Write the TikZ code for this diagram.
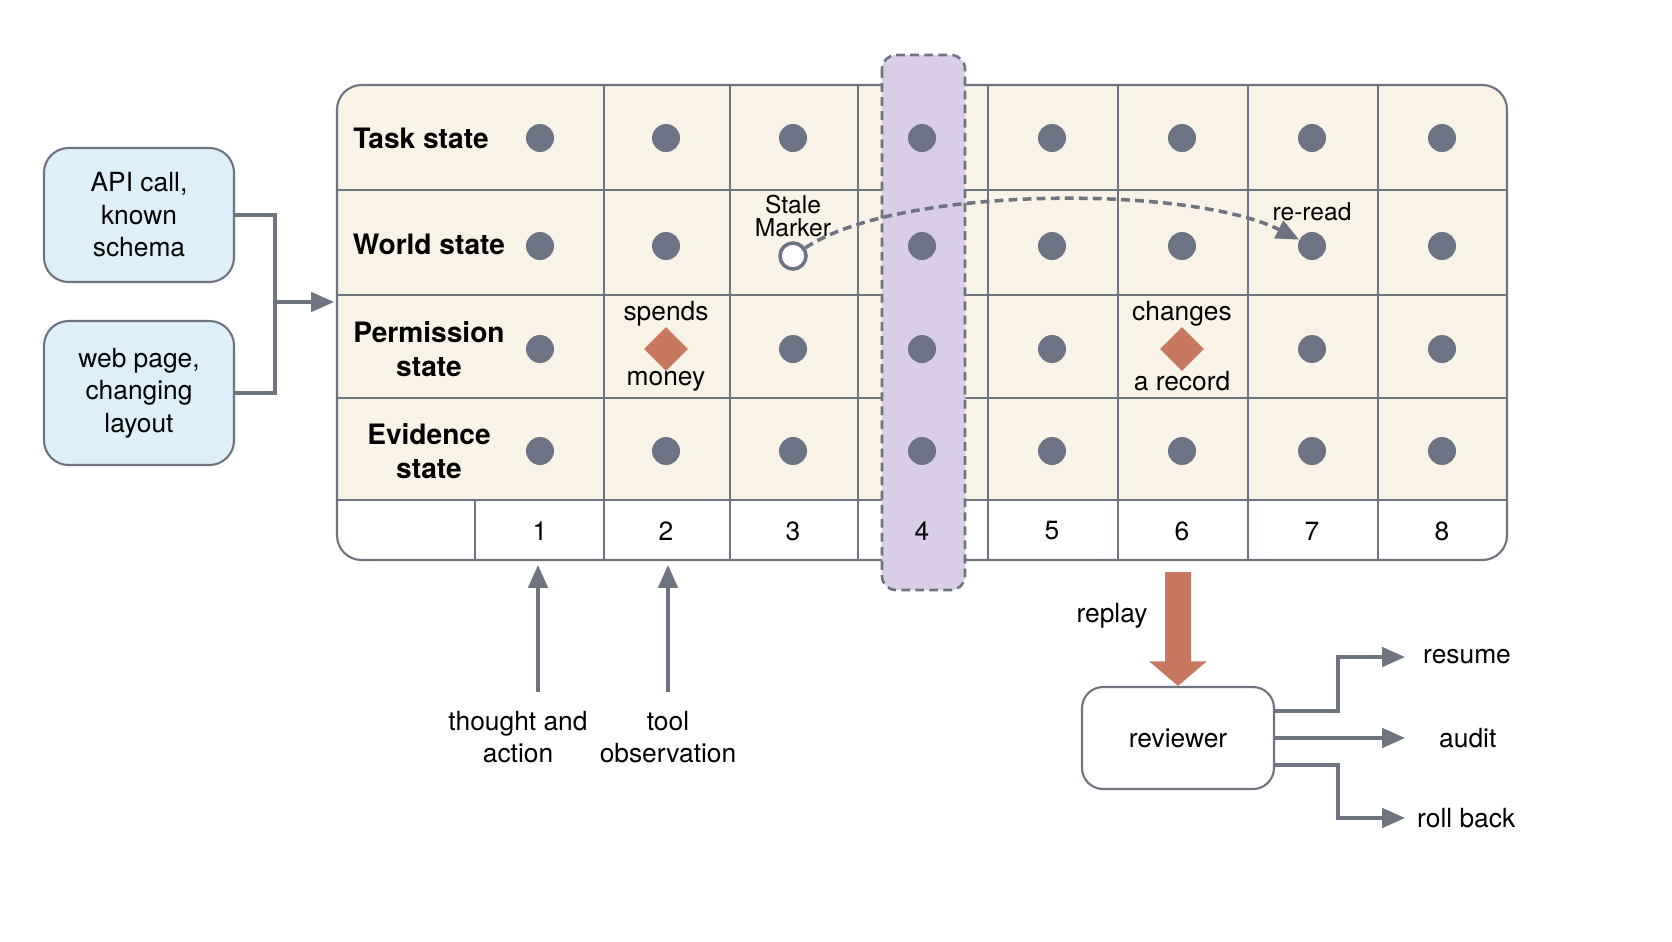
\documentclass[tikz,border=0pt]{standalone}
\usepackage{fontspec}
\setmainfont{TeX Gyre Heros}
\usetikzlibrary{positioning,arrows.meta,shapes.geometric}
\definecolor{linegray}{HTML}{6E7380}
\definecolor{dotgray}{HTML}{6B7385}
\definecolor{cream}{HTML}{F8F3E6}
\definecolor{boxblue}{HTML}{DDEFF9}
\definecolor{band}{HTML}{D9CDE8}
\definecolor{rust}{HTML}{C87860}
\newlength{\pxu}\setlength{\pxu}{0.02cm}
\tikzset{
  grid/.style={draw=linegray,line width=1.2pt},
  dot/.style={circle,fill=dotgray,inner sep=0pt,minimum size=28\pxu},
  riskmark/.style={diamond,fill=rust,inner sep=0pt,minimum size=44\pxu},
  src/.style={draw=linegray,fill=boxblue,rounded corners=14pt,line width=1.2pt,
    minimum width=190\pxu,minimum height=134\pxu,align=center,font=\fontsize{15}{18.5}\selectfont},
  lab/.style={font=\fontsize{15}{18.5}\selectfont,align=center},
  rowlab/.style={font=\bfseries\fontsize{16}{19}\selectfont,align=center},
  conn/.style={draw=linegray,line width=2pt},
  tip/.style={-{Triangle[length=13pt,width=11pt]}}
}
\begin{document}
\begin{tikzpicture}[x=0.02cm,y=-0.02cm]
\useasboundingbox (0,0) rectangle (1672,941);
% table
\begin{scope}
  \clip[rounded corners=14pt] (337,85) rectangle (1507,560);
  \fill[white] (337,85) rectangle (1507,560);
  \fill[cream] (337,85) rectangle (1507,500);
\end{scope}
\foreach \y in {190,295,398,500} \draw[grid] (337,\y) -- (1507,\y);
\foreach \x in {604,730,858,988,1118,1248,1378} \draw[grid] (\x,85) -- (\x,560);
\draw[grid] (475,500) -- (475,560);
\draw[grid,rounded corners=14pt] (337,85) rectangle (1507,560);
% highlighted step
\draw[fill=band,draw=linegray,dash pattern=on 5pt off 3pt,line width=1.5pt,rounded corners=8pt] (882,55) rectangle (965,590);
% row labels
\node[rowlab] (task) at (421,138) {Task state};
\node[rowlab] (world) at (429,244) {World state};
\node[rowlab] (perm) at (429,349) {Permission\\state};
\node[rowlab] (evid) at (429,451) {Evidence\\state};
% dots
\foreach \x [count=\i] in {540,666,793,922,1052,1182,1312,1442} {
  \node[dot] (t\i) at (\x,138) {};
  \node[dot] (e\i) at (\x,451) {};
  \node[lab] (n\i) at (\x,531) {\i};
}
\foreach \x [count=\i] in {540,666,922,1052,1182,1312,1442} \node[dot] (w\i) at (\x,246) {};
\foreach \x [count=\i] in {540,793,922,1052,1312,1442} \node[dot] (p\i) at (\x,349) {};
% markers
\node[riskmark] (spend) at (666,349) {};
\node[lab] at (666,314) {spends};
\node[lab] at (666,381) {money};
\node[riskmark] (change) at (1182,349) {};
\node[lab] at (1182,314) {changes};
\node[lab] at (1182,381) {a record};
\node[circle,draw=dotgray,fill=white,line width=2pt,minimum size=26\pxu,inner sep=0pt] (stale) at (793,256) {};
\node[font=\fontsize{14}{13}\selectfont,align=center] at (793,216) {Stale\\Marker};
\node[font=\fontsize{14}{16}\selectfont] at (1312,212) {re-read};
\draw[conn,dash pattern=on 5pt off 3pt,tip] (stale) .. controls (900,185) and (1190,185) .. (w6);
% sources
\node[src] (api) at (139,215) {API call,\\known\\schema};
\node[src,minimum height=144\pxu] (web) at (139,393) {web page,\\changing\\layout};
\coordinate (join) at (275,302);
\coordinate (tin) at (334,302);
\draw[conn] (api.east) -| (join) |- (web.east);
\draw[conn,tip] (join) -- (tin);
% inputs
\node[lab] (thought) at (518,737) {thought and\\action};
\node[lab] (obs) at (668,737) {tool\\observation};
\coordinate (in1) at (538,565);
\coordinate (in2) at (668,565);
\draw[conn,tip] (538,692) -- (in1);
\draw[conn,tip] (668,692) -- (in2);
% replay
\node[draw=linegray,line width=1.2pt,rounded corners=12pt,minimum width=192\pxu,minimum height=102\pxu,lab] (rev) at (1178,738) {reviewer};
\coordinate (rtop) at (1178,572);
\draw[rust,line width=15pt,-{Triangle[length=14pt,width=32pt]}] (rtop) -- (rev.north);
\node[lab] at (1112,616) {replay};
\node[lab,anchor=west] (resume) at (1417,657) {resume};
\node[lab,anchor=west] (audit) at (1433,738) {audit};
\node[lab,anchor=west] (roll) at (1411,818) {roll back};
\draw[conn,tip] (1274,711) -- (1338,711) |- (1405,657);
\draw[conn,tip] (1274,738) -- (1405,738);
\draw[conn,tip] (1274,765) -- (1338,765) |- (1405,818);
\end{tikzpicture}
\end{document}
